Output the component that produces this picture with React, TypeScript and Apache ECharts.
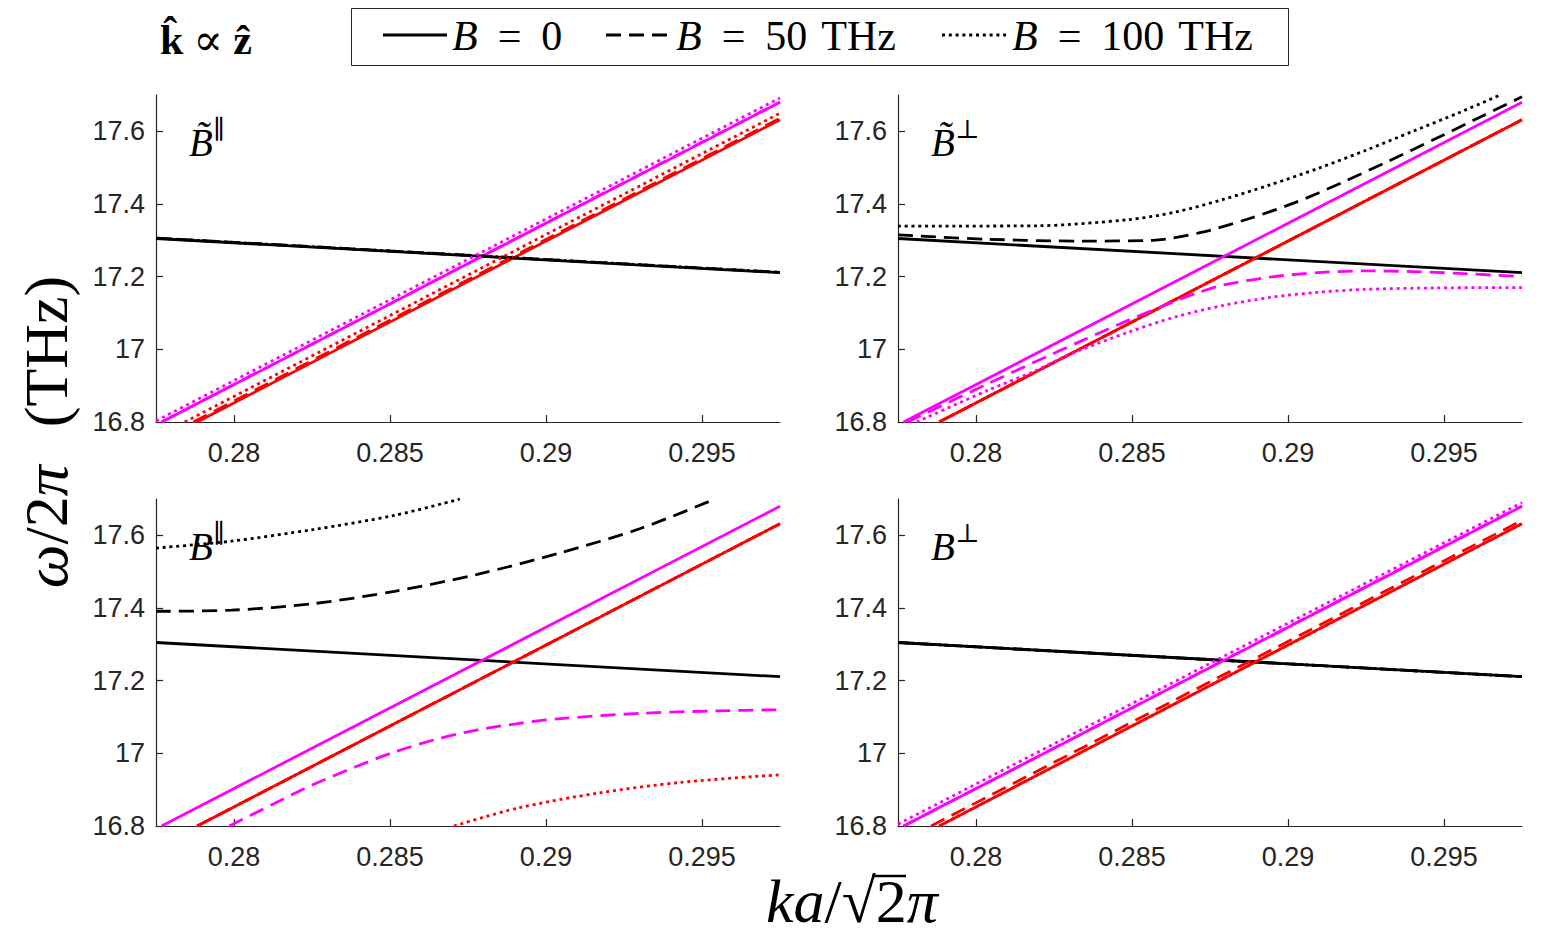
import { useEffect, useRef } from "react";
import * as echarts from "echarts";

type Pt = [number, number];

// axis ranges and ticks (shared by the four panels)
const kMin = 0.2775;
const kMax = 0.2975;
const wMin = 16.8;
const wMax = 17.7;
const kTicks = [0.28, 0.285, 0.29, 0.295];
const kTickLabels = ["0.28", "0.285", "0.29", "0.295"];
const wTicks = [16.8, 17, 17.2, 17.4, 17.6];
const wTickLabels = ["16.8", "17", "17.2", "17.4", "17.6"];

// B = 0 bands, identical in every panel
const black0: Pt[] = [[0.2775, 17.305], [0.2975, 17.211]];
const red0: Pt[] = [[0.27882, 16.8], [0.2975, 17.632]];
const magenta0: Pt[] = [[0.27768, 16.8], [0.2975, 17.68]];

// panel B~par
const tParBlack50: Pt[] = [[0.2775, 17.306], [0.2975, 17.212]];
const tParRed50: Pt[] = [[0.2787, 16.8], [0.2975, 17.636]];
const tParMagenta50: Pt[] = [[0.27768, 16.8], [0.2975, 17.681]];
const tParBlack100: Pt[] = [[0.2775, 17.306], [0.2975, 17.212]];
const tParRed100: Pt[] = [[0.27842, 16.8], [0.2975, 17.65]];
const tParMagenta100: Pt[] = [[0.2775, 16.803], [0.2975, 17.692]];

// panel B~perp
const tPerpBlack50: Pt[] = [
  [0.2775, 17.315], [0.28037, 17.303], [0.2834, 17.298], [0.28566, 17.3],
  [0.28718, 17.321], [0.28869, 17.358], [0.2902, 17.403], [0.29171, 17.458],
  [0.29322, 17.518], [0.29474, 17.58], [0.29625, 17.643], [0.2975, 17.695],
];
const tPerpMagenta50: Pt[] = [
  [0.2778, 16.8], [0.28037, 16.905], [0.28188, 16.965], [0.2834, 17.024],
  [0.28491, 17.081], [0.28642, 17.134], [0.28718, 17.158], [0.28793, 17.177],
  [0.28944, 17.199], [0.29096, 17.211], [0.29247, 17.216], [0.29398, 17.214],
  [0.2955, 17.209], [0.2975, 17.2],
];
const tPerpRed50: Pt[] = [[0.27882, 16.8], [0.2975, 17.632]];
const tPerpBlack100: Pt[] = [
  [0.2775, 17.339], [0.2819, 17.34], [0.2849, 17.357], [0.2864, 17.378],
  [0.2879, 17.412], [0.2894, 17.452], [0.291, 17.499], [0.2925, 17.548],
  [0.294, 17.6], [0.2955, 17.652], [0.2968, 17.7],
];
const tPerpMagenta100: Pt[] = [
  [0.2781, 16.8], [0.28037, 16.887], [0.28188, 16.94], [0.28279, 16.978],
  [0.2834, 17.0], [0.28491, 17.048], [0.28642, 17.09], [0.28793, 17.121],
  [0.28944, 17.143], [0.29096, 17.157], [0.29247, 17.165], [0.29474, 17.169],
  [0.2975, 17.17],
];
const tPerpRed100: Pt[] = [[0.27882, 16.8], [0.2975, 17.632]];

// panel B par
const parBlack50: Pt[] = [
  [0.2775, 17.391], [0.27992, 17.394], [0.28254, 17.412], [0.28515, 17.446],
  [0.28777, 17.492], [0.29038, 17.55], [0.293, 17.618], [0.29542, 17.7],
];
const parMagenta50: Pt[] = [
  [0.27985, 16.8], [0.2812, 16.858], [0.28254, 16.914], [0.2839, 16.963],
  [0.28515, 17.004], [0.2865, 17.039], [0.28777, 17.064], [0.2891, 17.082],
  [0.29038, 17.095], [0.293, 17.11], [0.2955, 17.117], [0.2975, 17.12],
];
const parRed50: Pt[] = [[0.27882, 16.8], [0.2975, 17.632]];
const parBlack100: Pt[] = [
  [0.2775, 17.565], [0.27992, 17.584], [0.28254, 17.616], [0.28515, 17.655],
  [0.28724, 17.7],
];
const parRed100Low: Pt[] = [
  [0.28705, 16.8], [0.28908, 16.849], [0.29169, 16.891], [0.29431, 16.92],
  [0.2975, 16.941],
];
const parRed100: Pt[] = [[0.27882, 16.8], [0.2975, 17.632]];

// panel B perp
const perpBlack50: Pt[] = [[0.2775, 17.305], [0.2975, 17.211]];
const perpRed50: Pt[] = [[0.27856, 16.8], [0.2975, 17.641]];
const perpMagenta50: Pt[] = [[0.27768, 16.8], [0.2975, 17.681]];
const perpBlack100: Pt[] = [[0.2775, 17.305], [0.2975, 17.211]];
const perpRed100: Pt[] = [[0.27882, 16.8], [0.2975, 17.632]];
const perpMagenta100: Pt[] = [[0.2775, 16.805], [0.2975, 17.69]];

const BLACK = "#000000";
const RED = "#ff0000";
const MAGENTA = "#ff00ff";
const AXIS = "#262626";
const DASH = [15, 8];
const DOT = [3, 3.8];

type Kind = "solid" | "dash" | "dot";
type Curve = { name: string; data: Pt[]; color: string; kind: Kind };

const panels: { label: string; sup: string; curves: Curve[] }[] = [
  {
    label: "B\u0303",
    sup: "\u2225",
    curves: [
      { name: "B=0 a", data: black0, color: BLACK, kind: "solid" },
      { name: "B=0 b", data: red0, color: RED, kind: "solid" },
      { name: "B=0 c", data: magenta0, color: MAGENTA, kind: "solid" },
      { name: "B=50 a", data: tParBlack50, color: BLACK, kind: "dash" },
      { name: "B=50 b", data: tParRed50, color: RED, kind: "dash" },
      { name: "B=50 c", data: tParMagenta50, color: MAGENTA, kind: "dash" },
      { name: "B=100 a", data: tParBlack100, color: BLACK, kind: "dot" },
      { name: "B=100 b", data: tParRed100, color: RED, kind: "dot" },
      { name: "B=100 c", data: tParMagenta100, color: MAGENTA, kind: "dot" },
    ],
  },
  {
    label: "B\u0303",
    sup: "\u22A5",
    curves: [
      { name: "B=0 a", data: black0, color: BLACK, kind: "solid" },
      { name: "B=50 b", data: tPerpRed50, color: RED, kind: "dash" },
      { name: "B=100 b", data: tPerpRed100, color: RED, kind: "dot" },
      { name: "B=0 b", data: red0, color: RED, kind: "solid" },
      { name: "B=0 c", data: magenta0, color: MAGENTA, kind: "solid" },
      { name: "B=50 a", data: tPerpBlack50, color: BLACK, kind: "dash" },
      { name: "B=50 c", data: tPerpMagenta50, color: MAGENTA, kind: "dash" },
      { name: "B=100 a", data: tPerpBlack100, color: BLACK, kind: "dot" },
      { name: "B=100 c", data: tPerpMagenta100, color: MAGENTA, kind: "dot" },
    ],
  },
  {
    label: "B",
    sup: "\u2225",
    curves: [
      { name: "B=0 a", data: black0, color: BLACK, kind: "solid" },
      { name: "B=50 b", data: parRed50, color: RED, kind: "dash" },
      { name: "B=0 b", data: red0, color: RED, kind: "solid" },
      { name: "B=100 b", data: parRed100, color: RED, kind: "dot" },
      { name: "B=0 c", data: magenta0, color: MAGENTA, kind: "solid" },
      { name: "B=50 a", data: parBlack50, color: BLACK, kind: "dash" },
      { name: "B=50 c", data: parMagenta50, color: MAGENTA, kind: "dash" },
      { name: "B=100 a", data: parBlack100, color: BLACK, kind: "dot" },
      { name: "B=100 c", data: parRed100Low, color: RED, kind: "dot" },
    ],
  },
  {
    label: "B",
    sup: "\u22A5",
    curves: [
      { name: "B=0 a", data: black0, color: BLACK, kind: "solid" },
      { name: "B=50 a", data: perpBlack50, color: BLACK, kind: "dash" },
      { name: "B=100 a", data: perpBlack100, color: BLACK, kind: "dot" },
      { name: "B=0 b", data: red0, color: RED, kind: "solid" },
      { name: "B=100 b", data: perpRed100, color: RED, kind: "dot" },
      { name: "B=50 b", data: perpRed50, color: RED, kind: "dash" },
      { name: "B=0 c", data: magenta0, color: MAGENTA, kind: "solid" },
      { name: "B=50 c", data: perpMagenta50, color: MAGENTA, kind: "dash" },
      { name: "B=100 c", data: perpMagenta100, color: MAGENTA, kind: "dot" },
    ],
  },
];

const PLOT_W = 624;
const PLOT_H = 327;
const COLS = [156, 898];
const ROWS = [95, 499];

const SANS = '"Liberation Sans", Arial, Helvetica, sans-serif';
const SERIF = '"Liberation Serif", "DejaVu Serif", "Times New Roman", serif';

function labelOf(values: number[], labels: string[], v: number) {
  for (let i = 0; i < values.length; i++) {
    if (Math.abs(values[i] - v) < 1e-9) return labels[i];
  }
  return "";
}

function buildOption(): echarts.EChartsOption {
  const grid: any[] = [];
  const xAxis: any[] = [];
  const yAxis: any[] = [];
  const series: any[] = [];
  const graphic: any[] = [];

  panels.forEach((p, i) => {
    const left = COLS[i % 2];
    const top = ROWS[Math.floor(i / 2)];
    grid.push({ left, top, width: PLOT_W, height: PLOT_H, containLabel: false });
    xAxis.push({
      type: "value",
      gridIndex: i,
      min: kMin,
      max: kMax,
      axisLine: { show: true, onZero: false, lineStyle: { color: AXIS, width: 1.2 } },
      axisTick: { show: true, inside: true, length: 7, customValues: kTicks, lineStyle: { color: AXIS, width: 1.2 } },
      axisLabel: {
        show: true,
        customValues: kTicks,
        formatter: (v: number) => labelOf(kTicks, kTickLabels, v),
        margin: 17,
        fontSize: 27,
        fontFamily: SANS,
        color: AXIS,
      },
      splitLine: { show: false },
    });
    yAxis.push({
      type: "value",
      gridIndex: i,
      min: wMin,
      max: wMax,
      axisLine: { show: true, onZero: false, lineStyle: { color: AXIS, width: 1.2 } },
      axisTick: { show: true, inside: true, length: 7, customValues: wTicks, lineStyle: { color: AXIS, width: 1.2 } },
      axisLabel: {
        show: true,
        customValues: wTicks,
        formatter: (v: number) => labelOf(wTicks, wTickLabels, v),
        margin: 11,
        fontSize: 27,
        fontFamily: SANS,
        color: AXIS,
      },
      splitLine: { show: false },
    });

    p.curves.forEach((c) => {
      series.push({
        type: "line",
        name: c.name,
        xAxisIndex: i,
        yAxisIndex: i,
        data: c.data,
        showSymbol: false,
        symbol: "none",
        smooth: c.data.length > 2 ? 0.3 : false,
        clip: true,
        silent: true,
        lineStyle: {
          color: c.color,
          width: 2.8,
          type: c.kind === "solid" ? "solid" : c.kind === "dash" ? DASH : DOT,
          cap: "butt",
        },
      });
    });

    // panel label
    graphic.push({
      type: "text",
      x: left + 33,
      y: top + 47,
      z: 100,
      style: {
        text: p.label,
        font: `italic 39px ${SERIF}`,
        fill: "#000",
        align: "left",
        verticalAlign: "middle",
      },
    });
    graphic.push({
      type: "text",
      x: left + 57,
      y: top + 34,
      z: 100,
      style: {
        text: p.sup,
        font: `26px ${SERIF}`,
        fill: "#000",
        align: "left",
        verticalAlign: "middle",
      },
    });
  });

  // header: direction and legend box
  graphic.push({
    type: "text",
    x: 160,
    y: 40,
    style: {
      text: "{b|k\u0302}{o|\u221D}{b|z\u0302}",
      fill: "#000",
      align: "left",
      verticalAlign: "middle",
      rich: {
        b: { font: `bold 42px ${SERIF}`, fill: "#000" },
        o: { font: `44px ${SERIF}`, fill: "#000", padding: [0, 10] },
      },
    },
  });
  graphic.push({
    type: "rect",
    shape: { x: 351.5, y: 8.5, width: 937, height: 57 },
    style: { fill: "#fff", stroke: AXIS, lineWidth: 1 },
  });
  const legendItems: { x0: number; tx: number; dash: any; value: string; unit: string }[] = [
    { x0: 383, tx: 452, dash: null, value: "0", unit: "" },
    { x0: 606, tx: 676, dash: DASH, value: "50", unit: "THz" },
    { x0: 942, tx: 1012, dash: DOT, value: "100", unit: "THz" },
  ];
  legendItems.forEach((it) => {
    graphic.push({
      type: "line",
      shape: { x1: it.x0, y1: 35, x2: it.x0 + 64, y2: 35 },
      style: { stroke: "#000", lineWidth: 2.8, lineDash: it.dash || undefined, lineCap: "butt" },
    });
    graphic.push({
      type: "text",
      x: it.tx,
      y: 36,
      style: {
        text: it.unit ? `{i|B}{o|=}{n|${it.value}}{u|${it.unit}}` : `{i|B}{o|=}{n|${it.value}}`,
        fill: "#000",
        align: "left",
        verticalAlign: "middle",
        rich: {
          i: { font: `italic 42px ${SERIF}`, fill: "#000" },
          o: { font: `42px ${SERIF}`, fill: "#000", padding: [0, 20] },
          n: { font: `42px ${SERIF}`, fill: "#000" },
          u: { font: `42px ${SERIF}`, fill: "#000", padding: [0, 0, 0, 14] },
        },
      },
    });
  });

  // axis titles
  graphic.push({
    type: "text",
    x: 46,
    y: 432,
    rotation: Math.PI / 2,
    style: {
      text: "{i|\u03C9}{n|/2}{i|\u03C0}{p|(THz)}",
      fill: "#000",
      align: "center",
      verticalAlign: "middle",
      rich: {
        i: { font: `italic 62px ${SERIF}`, fill: "#000" },
        n: { font: `62px ${SERIF}`, fill: "#000" },
        p: { font: `62px ${SERIF}`, fill: "#000", padding: [0, 0, 0, 38] },
      },
    },
  });
  graphic.push({
    type: "text",
    x: 852,
    y: 901,
    style: {
      text: "{i|ka}{n|/\u221A2}{i|\u03C0}",
      fill: "#000",
      align: "center",
      verticalAlign: "middle",
      rich: {
        i: { font: `italic 62px ${SERIF}`, fill: "#000" },
        n: { font: `62px ${SERIF}`, fill: "#000" },
      },
    },
  });
  graphic.push({
    type: "line",
    shape: { x1: 872, y1: 876, x2: 906, y2: 876 },
    style: { stroke: "#000", lineWidth: 2.6 },
  });

  return {
    animation: false,
    backgroundColor: "#ffffff",
    grid,
    xAxis,
    yAxis,
    series,
    graphic,
  } as any;
}

export default function App() {
  const ref = useRef<HTMLDivElement>(null);
  useEffect(() => {
    if (!ref.current) return;
    const chart = echarts.init(ref.current, undefined, { renderer: "svg" });
    chart.setOption(buildOption());
    return () => chart.dispose();
  }, []);
  return (
    <div
      ref={ref}
      style={{ position: "absolute", left: 0, top: 0, width: 1563, height: 938, background: "#fff" }}
    />
  );
}
